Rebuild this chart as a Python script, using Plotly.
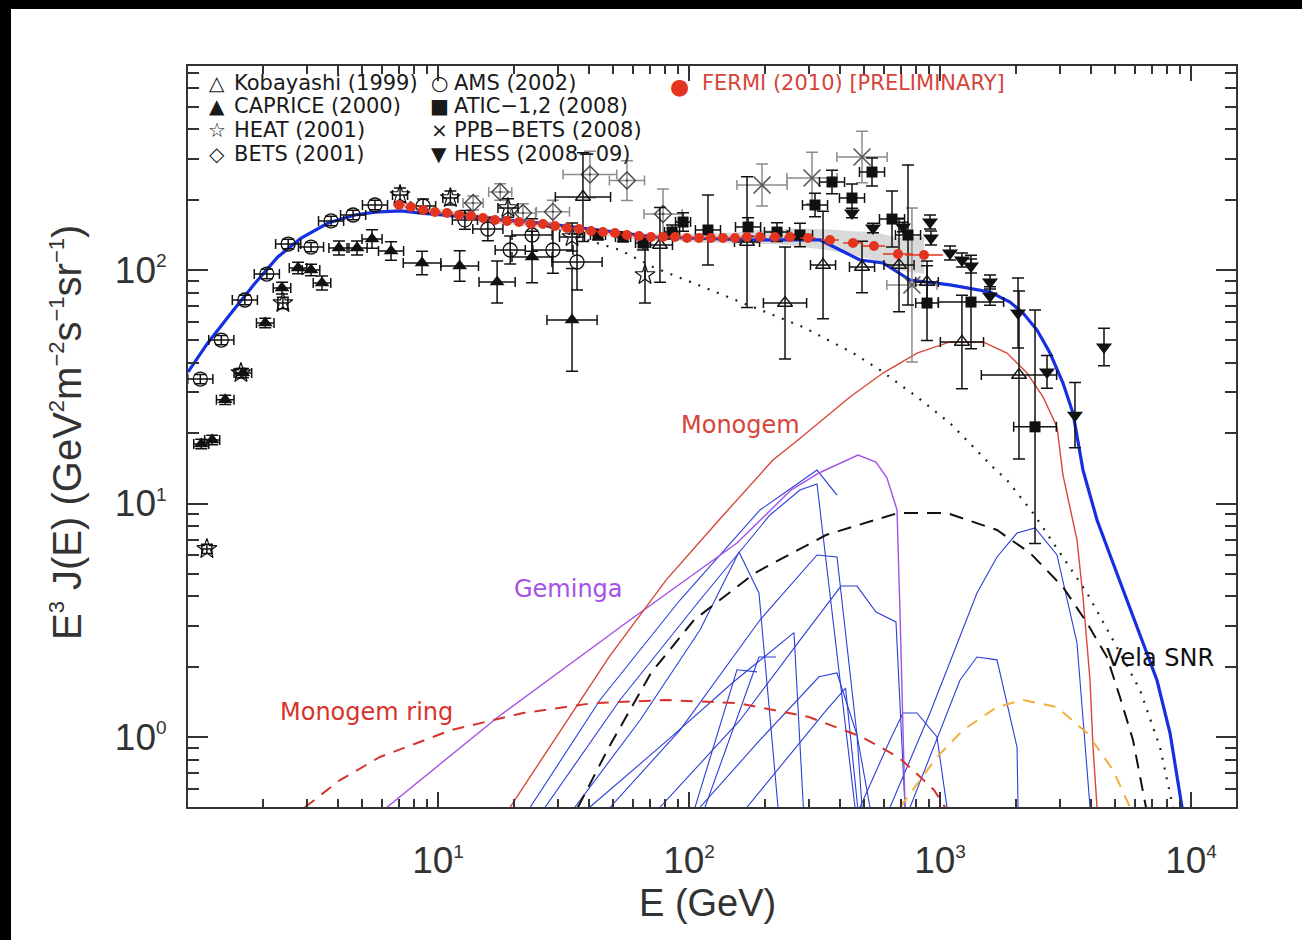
import plotly.graph_objects as go

# ---------------- data (E in GeV, E^3 J(E) in GeV^2 m^-2 s^-1 sr^-1) ----------------
total_E = [1.01, 1.21, 1.50, 1.87, 2.30, 2.85, 3.65, 4.67, 5.61, 7.12, 8.56, 14.7, 25.5, 44.2, 71.9,
           180, 333, 400, 480, 593, 760, 1096, 1582, 1900, 2142, 2435, 2744, 3090, 3387, 3713,
           4223, 4890, 6094, 7320, 8250, 9210]
total_F = [36.6, 48.7, 65.4, 88.0, 113.7, 137, 159, 172, 177, 179, 175, 167, 159, 148, 138.5,
           134.5, 134.5, 121.8, 110.4, 107.2, 90.6, 86.3, 80.5, 72.9, 65.4, 55.3, 44.1, 32.8, 24.4, 13.9,
           8.50, 5.56, 2.96, 1.75, 1.04, 0.50]

bg_E = [25.5, 39.2, 53.1, 71.9, 113.7, 180, 284.6, 450.3, 576.8, 809.7, 1096, 1627, 1849, 2348,
        3007, 3852, 4890, 6264, 7522, 8478]
bg_F = [157.4, 134.5, 121.8, 103, 84.6, 69.4, 57.0, 44.1, 37.3, 28.6, 22.1, 14.3, 12.6, 9.11,
        6.14, 4.14, 2.60, 1.59, 0.906, 0.50]

mono_E = [19.36, 30.35, 48.0, 81.0, 131.7, 216, 271.9, 437.9, 593, 809.7, 1096, 1484, 1849, 2221,
          2573, 2925, 3090, 3514, 3713, 3960, 4070, 4223]
mono_F = [0.5, 1.04, 2.20, 4.70, 8.50, 15.36, 18.71, 28.6, 36.2, 44.1, 49.2, 49.2, 44.1, 36.2,
          28.6, 21.3, 13.24, 6.98, 3.98, 1.75, 0.906, 0.5]

gem_E = [6.26, 17.34, 58.2, 155.3, 255, 329.6, 471.3, 555.9, 615, 674.2, 692.9, 712.3, 725.5]
gem_F = [0.5, 1.218, 3.17, 6.77, 11.42, 13.51, 16.13, 15.05, 12.86, 9.38, 3.40, 0.906, 0.5]

vela_E = [36.1, 48.0, 70.6, 104.7, 183.2, 351.4, 680.4, 1066, 1687, 2284, 3090, 3852, 4627, 5214, 5874, 6617]
vela_F = [0.5, 0.906, 1.88, 3.17, 5.04, 7.33, 9.11, 9.11, 7.70, 6.14, 4.39, 3.08, 2.20, 1.48, 0.971, 0.5]

ring_E = [2.95, 4.07, 5.87, 11.27, 21.8, 41.8, 81.0, 155.3, 300.6, 489, 680.4, 780.5, 946.4, 1047]
ring_F = [0.5, 0.654, 0.821, 1.07, 1.267, 1.398, 1.44, 1.398, 1.218, 1.0, 0.821, 0.722, 0.593, 0.5]

orange_E = [692.9, 972.8, 1235, 1687, 2142, 2925, 3852, 4890, 5715]
orange_F = [0.5, 0.821, 1.07, 1.344, 1.44, 1.344, 1.04, 0.722, 0.5]

snr_E = [
    [23.3, 44.2, 92.1, 191.8, 276.8, 323.6, 388.8],
    [26.7, 53.1, 110.6, 210.2, 276.8, 323.6, 458.6],
    [35.1, 63.8, 110.6, 158.2, 190.0, 226.3],
    [48.5, 92.1, 191.8, 323.6, 388.8, 467, 489],
    [76.6, 159.7, 276.8, 403.3, 467, 555.9, 667.8, 725.5],
    [110.6, 191.8, 329.6, 388.8, 467, 526.2],
    [480, 632.2, 712.3, 809.7, 972.8, 1066],
    [632.2, 912.5, 1404, 1687, 2027, 2391, 2925, 3514, 3960],
    [760, 1201, 1404, 1687, 2027, 2046],
    [105.7, 155.3, 186.6],
    [115.8, 190.0, 222.2],
    [40.2, 80.5, 150.3, 215.4, 262.0, 285.5],
    [170.2, 262.0, 352.0, 420.5, 470.0],
]
snr_F = [
    [0.5, 1.44, 3.86, 9.38, 12.36, 13.9, 10.87],
    [0.5, 1.44, 3.86, 8.93, 11.42, 12.12, 0.5],
    [0.5, 1.18, 2.87, 6.20, 4.14, 0.5],
    [0.5, 1.07, 3.17, 6.02, 5.90, 1.02, 0.5],
    [0.5, 1.18, 2.60, 4.43, 4.43, 3.43, 3.11, 0.5],
    [0.5, 0.971, 1.81, 1.88, 1.02, 0.5],
    [0.5, 0.971, 1.267, 1.267, 1.0, 0.5],
    [0.5, 1.267, 4.14, 5.90, 7.47, 7.86, 6.02, 2.53, 0.5],
    [0.5, 1.75, 2.20, 2.14, 0.906, 0.5],
    [0.5, 1.94, 1.90],
    [0.5, 2.20, 2.20],
    [0.5, 0.95, 1.72, 2.35, 2.80, 0.5],
    [0.5, 0.88, 1.30, 1.62, 0.5],
]

# experiments: value lists + half-widths of error bars in decades (dex)
kob_E = [37.8, 76.6, 170.3, 241.3, 342, 489, 686.7, 887.7, 1223, 2064]
kob_F = [205.4, 128, 131.8, 72.2, 105, 103, 105, 88.8, 49.2, 35.5]
kob_dx = [0.11, 0.05, 0.05, 0.086, 0.05, 0.05, 0.06, 0.045, 0.086, 0.15]
kob_dy = [0.19, 0.16, 0.28, 0.24, 0.23, 0.11, 0.2, 0.09, 0.2, 0.36]

cap_E = [1.14, 1.26, 1.42, 1.67, 2.05, 2.39, 2.77, 3.12, 3.45, 4.03, 4.76, 5.46, 6.50, 8.64, 12.2, 17.2, 23.7, 34.2]
cap_F = [17.98, 18.7, 27.8, 36.2, 59.3, 83.7, 102, 100, 88.0, 124.2, 124.2, 135.8, 120.6, 107.2, 104, 88.8, 113.7, 61.1]
cap_dx = [0.03, 0.03, 0.035, 0.035, 0.035, 0.035, 0.035, 0.035, 0.035, 0.04, 0.04, 0.04, 0.05, 0.075, 0.075, 0.072, 0.08, 0.1]
cap_dy = [0.02, 0.02, 0.02, 0.02, 0.02, 0.025, 0.025, 0.025, 0.03, 0.03, 0.03, 0.04, 0.04, 0.05, 0.065, 0.09, 0.11, 0.22]

heat_E = [1.20, 1.64, 2.41, 7.06, 11.2, 19.0, 34.2, 66.8]
heat_F = [6.39, 36.2, 72.2, 209.5, 203.4, 184.3, 138.5, 95.2]
heat_dx = [0.02, 0.02, 0.02, 0.03, 0.03, 0.04, 0.05, 0.0]
heat_dy = [0.02, 0.02, 0.025, 0.03, 0.03, 0.04, 0.06, 0.12]

bets_E = [13.8, 17.7, 21.8, 28.7, 40.3, 56.6, 78.8]
bets_F = [193.6, 215.8, 175.4, 177.5, 256.5, 241.6, 173.7]
bets_dx = [0.04, 0.046, 0.05, 0.066, 0.107, 0.07, 0.076]
bets_dy = [0.03, 0.035, 0.04, 0.05, 0.1, 0.085, 0.107]

ams_E = [1.13, 1.37, 1.70, 2.08, 2.53, 3.12, 3.75, 4.59, 5.61, 8.72, 12.8, 15.8, 19.4, 23.7, 28.7, 35.8]
ams_F = [34.1, 50.1, 74.4, 96.1, 129.2, 125.4, 162.2, 172, 189.8, 188, 163.8, 149.8, 121.8, 141.2, 121.8, 108.2]
ams_dx = [0.05, 0.05, 0.05, 0.05, 0.05, 0.05, 0.05, 0.05, 0.05, 0.05, 0.05, 0.06, 0.06, 0.08, 0.08, 0.1]
ams_dy = [0.02, 0.02, 0.02, 0.02, 0.02, 0.02, 0.02, 0.02, 0.02, 0.03, 0.04, 0.05, 0.06, 0.07, 0.1, 0.12]

atic_E = [43.4, 54.6, 65.6, 85.6, 94.7, 119, 171.9, 224.2, 276.8, 317.7, 371.3, 446.1, 535.9, 643.9, 745.7, 887.7, 1329, 2391]
atic_F = [141.2, 138.5, 130.5, 145.4, 160.5, 148.4, 152.8, 145.4, 141.2, 189.8, 238.2, 203.4, 262.8, 165.3, 141.2, 72.2, 72.9, 21.3]
atic_dx = [0.03, 0.03, 0.03, 0.03, 0.03, 0.05, 0.05, 0.05, 0.05, 0.05, 0.05, 0.05, 0.05, 0.05, 0.05, 0.045, 0.13, 0.085]
atic_dy = [0.02, 0.02, 0.03, 0.03, 0.04, 0.15, 0.04, 0.04, 0.05, 0.05, 0.05, 0.06, 0.06, 0.12, 0.3, 0.16, 0.2, 0.5]

ppb_E = [195.4, 309, 489, 773]
ppb_F = [231.2, 247.7, 304.8, 86.3]
ppb_dx = [0.1, 0.1, 0.1, 0.1]
ppb_dy = [0.09, 0.11, 0.11, 0.33]

hess_E = [446.1, 540.9, 712.3, 912.5, 920.8, 1096, 1223, 1329, 1582, 1582, 2046, 2669, 3450, 4502]
hess_F = [175.4, 151.3, 152.8, 160.5, 137.1, 118.2, 110.4, 104, 88.8, 77.4, 65.4, 36.6, 23.9, 46.8]
hess_dy = [0.02, 0.02, 0.02, 0.03, 0.03, 0.03, 0.03, 0.03, 0.03, 0.04, 0.15, 0.07, 0.14, 0.08]

fermi_E = [6.99, 7.80, 8.72, 9.73, 10.86, 12.13, 13.54, 15.11, 16.87, 18.83, 21.02, 23.47, 26.20,
           29.25, 32.65, 36.46, 40.70, 45.43, 50.72, 56.62, 63.21, 70.56, 78.77, 87.94, 98.17,
           109.6, 122.3, 136.6, 152.5, 170.3, 191.8, 220.1, 252.6, 298, 364.6, 450.3, 545.9, 680.4, 863.6]
fermi_F = [189.8, 186.2, 180.7, 177.2, 175.4, 172.0, 170.3, 167.0, 163.7, 162.2, 160.5, 157.4, 157.4,
           154.3, 151.3, 149.8, 146.9, 145.4, 144.0, 141.2, 139.8, 138.5, 138.5, 138.5, 137.1,
           137.1, 137.1, 137.1, 137.1, 138.5, 138.5, 138.5, 138.5, 137.1, 134.4, 130.5, 126.7, 117.1, 115.9]
fermi_dx = [0.024, 0.024, 0.024, 0.024, 0.024, 0.024, 0.024, 0.024, 0.024, 0.024, 0.024, 0.024, 0.024,
            0.024, 0.024, 0.024, 0.024, 0.024, 0.024, 0.024, 0.024, 0.024, 0.024, 0.024, 0.024,
            0.024, 0.024, 0.024, 0.024, 0.024, 0.024, 0.024, 0.024, 0.03, 0.035, 0.04, 0.045, 0.06, 0.075]
fermi_sys = [0.015, 0.015, 0.015, 0.015, 0.015, 0.015, 0.015, 0.015, 0.015, 0.015, 0.015, 0.015, 0.015,
             0.015, 0.015, 0.015, 0.015, 0.015, 0.015, 0.015, 0.015, 0.015, 0.015, 0.015, 0.015,
             0.02, 0.02, 0.02, 0.025, 0.025, 0.03, 0.03, 0.035, 0.04, 0.045, 0.05, 0.06, 0.07, 0.08]

x_tickvals = [10, 100, 1000, 10000]
x_ticktext = ["10<sup><span style='font-size:19px'>1</span></sup>",
              "10<sup><span style='font-size:19px'>2</span></sup>",
              "10<sup><span style='font-size:19px'>3</span></sup>",
              "10<sup><span style='font-size:19px'>4</span></sup>"]
y_tickvals = [1, 10, 100]
y_ticktext = ["10<sup><span style='font-size:19px'>0</span></sup>",
              "10<sup><span style='font-size:19px'>1</span></sup>",
              "10<sup><span style='font-size:19px'>2</span></sup>"]

# ---------------- layout helpers ----------------
W, H = 1302, 940
L, R, T, B = 188, 66, 66, 133
PW, PH = W - L - R, H - T - B


def pxx(x):
    return (x - L) / PW


def pxy(y):
    return (H - B - y) / PH


def up(v, d):
    return [a * (10 ** e - 1) for a, e in zip(v, d)]


def dn(v, d):
    return [a * (1 - 10 ** (-e)) for a, e in zip(v, d)]


fig = go.Figure()

# Fermi systematic band
band_x = fermi_E + fermi_E[::-1]
band_y = [f * 10 ** s for f, s in zip(fermi_F, fermi_sys)] + \
         [f / 10 ** s for f, s in zip(fermi_F[::-1], fermi_sys[::-1])]
fig.add_trace(go.Scatter(x=band_x, y=band_y, fill='toself', fillcolor='rgba(185,185,185,0.55)',
                         line=dict(width=0), mode='lines', hoverinfo='skip'))

# thin blue source curves
for e, f in zip(snr_E, snr_F):
    fig.add_trace(go.Scatter(x=e, y=f, mode='lines', line=dict(color='#2b3fd6', width=1.1)))

fig.add_trace(go.Scatter(x=gem_E, y=gem_F, mode='lines', line=dict(color='#a452e6', width=1.4)))
fig.add_trace(go.Scatter(x=mono_E, y=mono_F, mode='lines', line=dict(color='#d8483a', width=1.4)))
fig.add_trace(go.Scatter(x=ring_E, y=ring_F, mode='lines',
                         line=dict(color='#d6332b', width=2, dash='12px,9px')))
fig.add_trace(go.Scatter(x=orange_E, y=orange_F, mode='lines',
                         line=dict(color='#f0b040', width=2, dash='12px,9px')))
fig.add_trace(go.Scatter(x=vela_E, y=vela_F, mode='lines',
                         line=dict(color='#111111', width=2, dash='14px,9px')))
fig.add_trace(go.Scatter(x=bg_E, y=bg_F, mode='lines',
                         line=dict(color='#222222', width=2.2, dash='2px,8px')))
fig.add_trace(go.Scatter(x=total_E, y=total_F, mode='lines',
                         line=dict(color='#1530e0', width=3.2)))


def exp_trace(E, F, dx, dy, symbol, size, color, ecolor, lw=1.4):
    if dx is not None:
        ex = dict(type='data', symmetric=False, array=up(E, dx), arrayminus=dn(E, dx),
                  color=ecolor, thickness=1.5, width=5)
    else:
        ex = dict(visible=False)
    ey = dict(type='data', symmetric=False, array=up(F, dy), arrayminus=dn(F, dy),
              color=ecolor, thickness=1.5, width=6)
    return go.Scatter(x=E, y=F, mode='markers', error_x=ex, error_y=ey,
                      marker=dict(symbol=symbol, size=size, color=color,
                                  line=dict(width=lw, color=color)))


fig.add_trace(exp_trace(bets_E, bets_F, bets_dx, bets_dy, 'diamond-open-dot', 13, '#444444', '#8c8c8c'))
fig.add_trace(exp_trace(ppb_E, ppb_F, ppb_dx, ppb_dy, 'x-thin-open', 17, '#555555', '#8c8c8c', 1.6))
fig.add_trace(exp_trace(kob_E, kob_F, kob_dx, kob_dy, 'triangle-up-open', 13, '#111111', '#111111'))
fig.add_trace(exp_trace(cap_E, cap_F, cap_dx, cap_dy, 'triangle-up', 13, '#111111', '#111111', 0))
fig.add_trace(exp_trace(heat_E, heat_F, heat_dx, heat_dy, 'star-open', 15, '#111111', '#111111', 1.2))
fig.add_trace(exp_trace(ams_E, ams_F, ams_dx, ams_dy, 'circle-open', 14, '#111111', '#111111', 1.3))
fig.add_trace(exp_trace(atic_E, atic_F, atic_dx, atic_dy, 'square', 11, '#111111', '#111111', 0))
fig.add_trace(exp_trace(hess_E, hess_F, None, hess_dy, 'triangle-down', 14, '#111111', '#111111', 0))

# Fermi points
fig.add_trace(go.Scatter(
    x=fermi_E, y=fermi_F, mode='markers',
    error_x=dict(type='data', symmetric=False, array=up(fermi_E, fermi_dx),
                 arrayminus=dn(fermi_E, fermi_dx), color='#e2341f', thickness=1.5, width=0),
    marker=dict(symbol='circle', size=10, color='#e2341f', line=dict(width=0))))

# invisible trace so the mirrored (top/right) tick axes are drawn
fig.add_trace(go.Scatter(x=total_E[:1], y=total_F[:1], xaxis='x2', yaxis='y2', mode='markers',
                         marker=dict(opacity=0), hoverinfo='skip'))

# ---------------- annotations ----------------
ann = []
leg_font = dict(family='DejaVu Sans', size=21, color='#1a1a1a')
sym_font = dict(family='DejaVu Sans', size=20, color='#1a1a1a')
rows = [83, 106, 130, 154]
col1 = ['Kobayashi (1999)', 'CAPRICE (2000)', 'HEAT (2001)', 'BETS (2001)']
col1_sym = ['\u25B3', '\u25B2', '\u2606', '\u25C7']
col2 = ['AMS (2002)', 'ATIC\u22121,2 (2008)', 'PPB\u2212BETS (2008)', 'HESS (2008\u221209)']
col2_sym = ['\u25CB', '\u25A0', '\u00D7', '\u25BC']
for r, t, s in zip(rows, col1, col1_sym):
    ann.append(dict(x=pxx(217), y=pxy(r), text=s, xanchor='center', yanchor='middle', font=sym_font))
    ann.append(dict(x=pxx(232), y=pxy(r), text=t, xanchor='left', yanchor='middle', font=leg_font))
for r, t, s in zip(rows, col2, col2_sym):
    ann.append(dict(x=pxx(439), y=pxy(r), text=s, xanchor='center', yanchor='middle', font=sym_font))
    ann.append(dict(x=pxx(452), y=pxy(r), text=t, xanchor='left', yanchor='middle', font=leg_font))
ann.append(dict(x=pxx(679), y=pxy(86), text='\u25CF', xanchor='center', yanchor='middle',
                font=dict(family='DejaVu Sans', size=22, color='#e2341f')))
ann.append(dict(x=pxx(700), y=pxy(83), text='FERMI (2010) [PRELIMINARY]', xanchor='left', yanchor='middle',
                font=dict(family='DejaVu Sans', size=21, color='#d6443a')))

lab_font = 24
ann.append(dict(x=pxx(740), y=pxy(425), text='Monogem', xanchor='center', yanchor='middle',
                font=dict(family='DejaVu Sans', size=lab_font, color='#d6443a')))
ann.append(dict(x=pxx(568), y=pxy(589), text='Geminga', xanchor='center', yanchor='middle',
                font=dict(family='DejaVu Sans', size=lab_font, color='#a452e6')))
ann.append(dict(x=pxx(366), y=pxy(712), text='Monogem ring', xanchor='center', yanchor='middle',
                font=dict(family='DejaVu Sans', size=lab_font, color='#d6332b')))
ann.append(dict(x=pxx(1160), y=pxy(658), text='Vela SNR', xanchor='center', yanchor='middle',
                font=dict(family='DejaVu Sans', size=lab_font, color='#111111')))

# axis titles
ann.append(dict(x=pxx(707), y=pxy(903), text='E (GeV)', xanchor='center', yanchor='middle',
                font=dict(family='Liberation Sans', size=38, color='#333333')))
sp = "<sup><span style='font-size:22px'>%s</span></sup>"
ytitle = ('E' + sp % '3' + ' J(E) (GeV' + sp % '2' + 'm' + sp % '\u22122' + 's' + sp % '\u22121' +
          'sr' + sp % '\u22121' + ')')
ann.append(dict(x=pxx(66), y=pxy(433), text=ytitle, textangle=-90, xanchor='center', yanchor='middle',
                font=dict(family='Liberation Sans', size=40, color='#333333')))

for a in ann:
    a.update(xref='paper', yref='paper', showarrow=False)

shapes = [
    dict(type='rect', xref='paper', yref='paper', x0=pxx(0), x1=pxx(W), y0=pxy(9), y1=pxy(0),
         fillcolor='black', line=dict(width=0), layer='below'),
    dict(type='rect', xref='paper', yref='paper', x0=pxx(0), x1=pxx(11), y0=pxy(H), y1=pxy(0),
         fillcolor='black', line=dict(width=0), layer='below'),
]

x_minor = [m * 10 ** k for k in range(0, 5) for m in range(2, 10)]
y_minor = [m * 10 ** k for k in range(-1, 3) for m in range(2, 10)]
x_range = [0.004, 4.1793]
y_range = [-0.2998, 2.8737]

axis_common = dict(type='log', showline=True, linecolor='#333333', linewidth=2, mirror=True,
                   ticks='inside', tickwidth=1.8, tickcolor='#333333', showgrid=False, zeroline=False,
                   tickfont=dict(family='Liberation Sans', size=37, color='#333333'))
x_minor_d = dict(ticks='inside', ticklen=8, tickwidth=1.6, tickcolor='#333333',
                 tickmode='array', tickvals=x_minor, showgrid=False)
y_minor_d = dict(ticks='inside', ticklen=11, tickwidth=1.6, tickcolor='#333333',
                 tickmode='array', tickvals=y_minor, showgrid=False)

fig.update_layout(
    width=W, height=H,
    margin=dict(l=L, r=R, t=T, b=B),
    paper_bgcolor='white', plot_bgcolor='white',
    showlegend=False,
    annotations=ann, shapes=shapes,
    xaxis=dict(axis_common, range=x_range, tickmode='array', tickvals=x_tickvals,
               ticktext=x_ticktext, ticklen=15, ticklabelstandoff=20, minor=x_minor_d),
    yaxis=dict(axis_common, range=y_range, tickmode='array', tickvals=y_tickvals,
               ticktext=y_ticktext, ticklen=20, ticklabelstandoff=12, minor=y_minor_d),
    xaxis2=dict(type='log', overlaying='x', side='top', anchor='y', range=x_range, showline=False,
                ticks='inside', ticklen=15, tickwidth=1.8, tickcolor='#333333', tickmode='array',
                tickvals=x_tickvals, showticklabels=False, showgrid=False, zeroline=False,
                minor=x_minor_d),
    yaxis2=dict(type='log', overlaying='y', side='right', anchor='x', range=y_range, showline=False,
                ticks='inside', ticklen=20, tickwidth=1.8, tickcolor='#333333', tickmode='array',
                tickvals=y_tickvals, showticklabels=False, showgrid=False, zeroline=False,
                minor=y_minor_d),
)

fig.write_html("out.html")
